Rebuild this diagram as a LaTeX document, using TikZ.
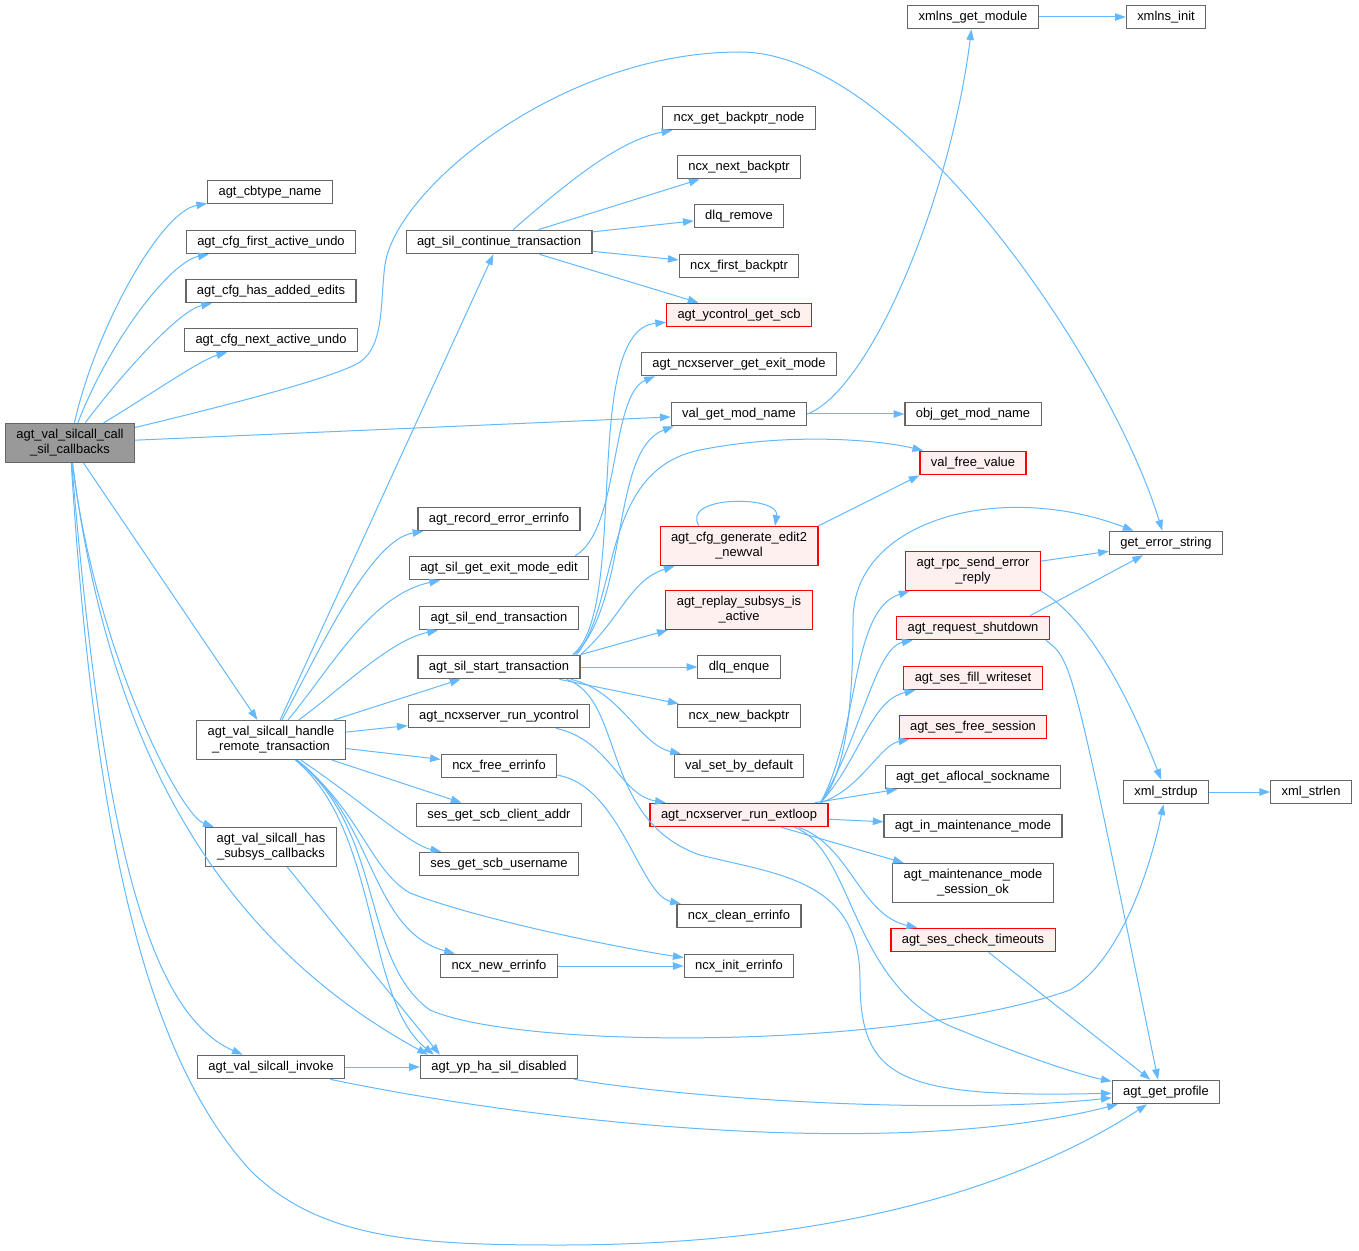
\documentclass[tikz,border=0pt]{standalone}
\usepackage{fontspec}
\setmainfont{Liberation Sans}
\usetikzlibrary{arrows.meta,calc}

\definecolor{edgeblue}{RGB}{99,184,255}
\definecolor{boxgray}{RGB}{102,102,102}
\definecolor{hotfill}{RGB}{255,240,240}
\definecolor{mainfill}{RGB}{153,153,153}

\tikzset{
  box/.style={draw=boxgray, line width=0.9pt, fill=white, inner xsep=8.2pt,
    font=\fontsize{9.7}{11.25}\selectfont, align=center},
  fn/.style={box, inner ysep=0pt, minimum height=17.6pt, text height=7pt, text depth=2pt},
  fntwo/.style={box, inner ysep=2pt, minimum height=29.3pt},
  hot/.style={draw=red, fill=hotfill},
  call/.style={draw=edgeblue, line width=0.75pt, -{Triangle[length=8pt,width=5.6pt]}}
}

\begin{document}
\begin{tikzpicture}[x=0.75pt, y=-0.75pt]

  \useasboundingbox (0,0) rectangle (1359,1251);

  % first column
  \node[fntwo, fill=mainfill] (m) at (70,443) {agt\_val\_silcall\_call\\\_sil\_callbacks};

  % second column
  \node[fn] (cbn) at (270,192) {agt\_cbtype\_name};
  \node[fn] (cfa) at (271,242) {agt\_cfg\_first\_active\_undo};
  \node[fn] (cha) at (271,291) {agt\_cfg\_has\_added\_edits};
  \node[fn] (cna) at (271,340) {agt\_cfg\_next\_active\_undo};
  \node[fntwo] (hrt) at (271,740) {agt\_val\_silcall\_handle\\\_remote\_transaction};
  \node[fntwo] (hsc) at (271,847) {agt\_val\_silcall\_has\\\_subsys\_callbacks};
  \node[fn] (inv) at (271,1067) {agt\_val\_silcall\_invoke};

  % third column
  \node[fn] (cont) at (499,242) {agt\_sil\_continue\_transaction};
  \node[fn] (ree) at (499,519) {agt\_record\_error\_errinfo};
  \node[fn] (gmee) at (499,568) {agt\_sil\_get\_exit\_mode\_edit};
  \node[fn] (endt) at (499,618) {agt\_sil\_end\_transaction};
  \node[fn] (start) at (499,667) {agt\_sil\_start\_transaction};
  \node[fn] (rycl) at (499,716) {agt\_ncxserver\_run\_ycontrol};
  \node[fn] (nfe) at (499,766) {ncx\_free\_errinfo};
  \node[fn] (sgca) at (499,815) {ses\_get\_scb\_client\_addr};
  \node[fn] (sgcu) at (499,864) {ses\_get\_scb\_username};
  \node[fn] (nne) at (499,966) {ncx\_new\_errinfo};
  \node[fn] (yphd) at (499,1067) {agt\_yp\_ha\_sil\_disabled};

  % fourth column
  \node[fn] (ngbn) at (739,118) {ncx\_get\_backptr\_node};
  \node[fn] (nnb) at (739,167) {ncx\_next\_backptr};
  \node[fn] (dlqr) at (739,216) {dlq\_remove};
  \node[fn] (nfb) at (739,266) {ncx\_first\_backptr};
  \node[fn, hot] (ygs) at (739,315) {agt\_ycontrol\_get\_scb};
  \node[fn] (gexm) at (739,364) {agt\_ncxserver\_get\_exit\_mode};
  \node[fn] (vgmn) at (739,414) {val\_get\_mod\_name};
  \node[fntwo, hot] (ge2n) at (739,546) {agt\_cfg\_generate\_edit2\\\_newval};
  \node[fntwo, hot] (rsia) at (739,610) {agt\_replay\_subsys\_is\\\_active};
  \node[fn] (dlqe) at (739,667) {dlq\_enque};
  \node[fn] (nnbp) at (739,716) {ncx\_new\_backptr};
  \node[fn] (vsbd) at (739,766) {val\_set\_by\_default};
  \node[fn, hot] (rext) at (739,815) {agt\_ncxserver\_run\_extloop};
  \node[fn] (nce) at (739,916) {ncx\_clean\_errinfo};
  \node[fn] (nie) at (739,966) {ncx\_init\_errinfo};

  % fifth column
  \node[fn] (xgm) at (973,17) {xmlns\_get\_module};
  \node[fn] (ogmn) at (973,414) {obj\_get\_mod\_name};
  \node[fn, hot] (vfv) at (973,463) {val\_free\_value};
  \node[fntwo, hot] (rser) at (973,571) {agt\_rpc\_send\_error\\\_reply};
  \node[fn, hot] (rsd) at (973,628) {agt\_request\_shutdown};
  \node[fn, hot] (sfw) at (973,678) {agt\_ses\_fill\_writeset};
  \node[fn, hot] (sfs) at (973,727) {agt\_ses\_free\_session};
  \node[fn] (gas) at (973,777) {agt\_get\_aflocal\_sockname};
  \node[fn] (imm) at (973,826) {agt\_in\_maintenance\_mode};
  \node[fntwo] (mso) at (973,883) {agt\_maintenance\_mode\\\_session\_ok};
  \node[fn, hot] (sct) at (973,940) {agt\_ses\_check\_timeouts};

  % last columns
  \node[fn] (xin) at (1166,17) {xmlns\_init};
  \node[fn] (ges) at (1166,543) {get\_error\_string};
  \node[fn] (xsd) at (1166,792) {xml\_strdup};
  \node[fn] (gpr) at (1166,1092) {agt\_get\_profile};
  \node[fn] (xsl) at (1311,792) {xml\_strlen};

  % calls of the main function
  \draw[call] (m) .. controls (95,330) and (160,212) .. (cbn);
  \draw[call] (m) .. controls (110,340) and (170,262) .. (cfa);
  \draw[call] (m) .. controls (125,370) and (180,310) .. (cha);
  \draw[call] (m) .. controls (150,395) and (200,360) .. (cna);
  \draw[call] (m) .. controls (250,400) and (340,375) .. (360,362)
    .. controls (385,345) and (380,300) .. (385,265)
    .. controls (395,190) and (560,52) .. (740,52)
    .. controls (900,52) and (1110,360) .. (ges);
  \draw[call] (m) -- (vgmn);
  \draw[call] (m) -- (hrt);
  \draw[call] (m) .. controls (95,650) and (180,815) .. (hsc);
  \draw[call] (m) .. controls (100,800) and (140,1010) .. (inv);
  \draw[call] (m) .. controls (105,720) and (200,930) .. ($(yphd.north west)+(8,0)$);
  \draw[call] (m) .. controls (95,850) and (150,1060) .. (250,1170)
    .. controls (320,1240) and (420,1245) .. (560,1245)
    .. controls (800,1245) and (1000,1200) .. (gpr);

  % handle remote transaction
  \draw[call] (hrt) -- (cont);
  \draw[call] (hrt) .. controls (320,650) and (370,540) .. (ree);
  \draw[call] (hrt) .. controls (330,670) and (370,595) .. (gmee);
  \draw[call] (hrt) .. controls (340,690) and (390,640) .. (endt);
  \draw[call] (hrt) -- (start);
  \draw[call] (hrt) -- (rycl);
  \draw[call] (hrt) -- (nfe);
  \draw[call] (hrt) -- (sgca);
  \draw[call] (hrt) .. controls (360,800) and (410,845) .. (sgcu);
  \draw[call] (hrt) .. controls (375,820) and (370,930) .. (nne);
  \draw[call] (hrt) .. controls (360,810) and (370,870) .. (410,893)
    .. controls (480,920) and (620,948) .. (nie);
  \draw[call] (hrt) .. controls (380,830) and (365,1000) .. ($(yphd.north west)+(14,0)$);
  \draw[call] (hrt) .. controls (385,830) and (360,960) .. (430,1010)
    .. controls (520,1050) and (900,1050) .. (1070,990)
    .. controls (1120,960) and (1150,870) .. (xsd);

  \draw[call] (hsc) -- ($(yphd.north west)+(20,0)$);
  \draw[call] (inv) -- (yphd);
  \draw[call] (inv) .. controls (550,1125) and (900,1160) .. (gpr);
  \draw[call] (yphd) .. controls (700,1100) and (950,1115) .. (gpr);
  \draw[call] (nne) -- (nie);
  \draw[call] (nfe) .. controls (620,785) and (640,895) .. (nce);
  \draw[call] (rycl) .. controls (610,740) and (620,795) .. (rext);

  % continue transaction
  \draw[call] (cont) .. controls (570,180) and (620,140) .. (ngbn);
  \draw[call] (cont) -- (nnb);
  \draw[call] (cont) -- (dlqr);
  \draw[call] (cont) -- (nfb);
  \draw[call] (cont) -- (ygs);
  \draw[call] ($(gmee.north east)+(-14,0)$) .. controls (620,530) and (610,395) .. ($(gexm.south west)+(14,0)$);

  % start transaction
  \draw[call] ($(start.north east)+(-8,0)$) .. controls (630,610) and (580,330) .. ($(ygs.south west)+(0,-5)$);
  \draw[call] ($(start.north east)+(-6,0)$) .. controls (630,600) and (610,450) .. ($(vgmn.south west)+(3,0)$);
  \draw[call] ($(start.north east)+(-4,0)$) .. controls (620,600) and (600,470) .. (700,450)
    .. controls (790,432) and (880,440) .. (vfv);
  \draw[call] (start.north east) .. controls (620,620) and (630,580) .. (ge2n);
  \draw[call] (start.north east) -- (rsia);
  \draw[call] (start) -- (dlqe);
  \draw[call] (start) -- (nnbp);
  \draw[call] ($(start.south east)+(-10,0)$) .. controls (620,690) and (640,745) .. (vsbd);
  \draw[call] ($(start.south east)+(-14,0)$) .. controls (625,700) and (600,820) .. (700,855)
    .. controls (780,875) and (860,880) .. (860,980)
    .. controls (860,1080) and (900,1098) .. (gpr);

  % module names and values
  \draw[call] (vgmn.east) .. controls (870,390) and (950,200) .. (xgm);
  \draw[call] (vgmn) -- (ogmn);
  \draw[call] (xgm) -- (xin);
  \draw[call] (ge2n.north east) -- (vfv.south west);
  \draw[call] ($(ge2n.north)+(-40,0)$) .. controls (680,495) and (780,495) .. ($(ge2n.north)+(36,0)$);

  % server loop
  \draw[call] ($(rext.north east)+(-8,0)$) .. controls (850,770) and (853,680) .. (853,620)
    .. controls (853,520) and (1000,480) .. (ges);
  \draw[call] ($(rext.north east)+(-8,0)$) .. controls (860,730) and (850,610) .. (rser);
  \draw[call] ($(rext.north east)+(-8,0)$) .. controls (860,740) and (875,648) .. (rsd);
  \draw[call] ($(rext.north east)+(-8,0)$) .. controls (860,760) and (870,700) .. (sfw);
  \draw[call] ($(rext.north east)+(-8,0)$) .. controls (860,790) and (880,745) .. (sfs);
  \draw[call] (rext) -- (gas);
  \draw[call] (rext) -- (imm);
  \draw[call] (rext) -- (mso);
  \draw[call] ($(rext.south east)+(-30,0)$) .. controls (850,845) and (860,915) .. (sct);
  \draw[call] ($(rext.south east)+(-34,0)$) .. controls (855,850) and (850,990) .. (960,1030)
    .. controls (1020,1055) and (1080,1075) .. (gpr);

  % errors and profile
  \draw[call] (rser) -- (ges);
  \draw[call] (rser.south east) .. controls (1090,620) and (1130,700) .. (xsd);
  \draw[call] ($(rsd.north east)+(-20,0)$) -- (ges);
  \draw[call] ($(rsd.south east)+(-4,0)$) .. controls (1072,660) .. ($(gpr.north)+(-8,0)$);
  \draw[call] (sct) -- (gpr);
  \draw[call] (xsd) -- (xsl);

\end{tikzpicture}
\end{document}
